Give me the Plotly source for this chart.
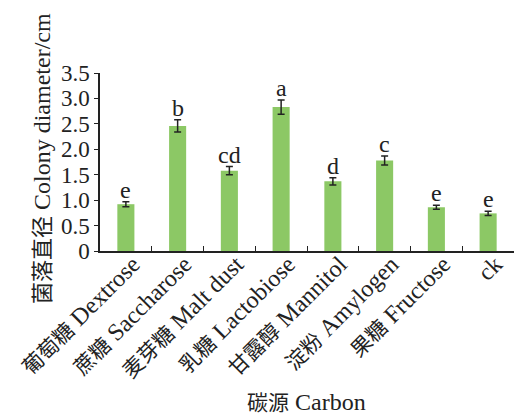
import plotly.graph_objects as go

cn_names = ["葡萄糖", "蔗糖", "麦芽糖", "乳糖", "甘露醇", "淀粉", "果糖", ""]
en_names = ["Dextrose", "Saccharose", "Malt dust", "Lactobiose", "Mannitol", "Amylogen", "Fructose", "ck"]
values = [0.92, 2.46, 1.58, 2.83, 1.37, 1.78, 0.86, 0.74]
errors = [0.05, 0.12, 0.08, 0.14, 0.07, 0.09, 0.04, 0.04]
letters = ["e", "b", "cd", "a", "d", "c", "e", "e"]
ytick_vals = [0, 0.5, 1.0, 1.5, 2.0, 2.5, 3.0, 3.5]
ytick_text = ["0", "0.5", "1.0", "1.5", "2.0", "2.5", "3.0", "3.5"]

FONT = "Liberation Serif, Times New Roman, Noto Sans CJK SC, serif"
AX = "#222222"
TXT = "#222222"


def label(cn, en):
    if cn:
        return f"<span style='font-size:21px'>{cn}</span> {en}"
    return en


categories = [label(c, e) for c, e in zip(cn_names, en_names)]

fig = go.Figure()
fig.add_trace(go.Bar(
    x=categories, y=values, width=0.33,
    marker=dict(color="#8cc865", line=dict(width=0)),
    error_y=dict(type="data", array=errors, visible=True, color=TXT, thickness=1.5, width=3.5),
))

for c, v, e, t in zip(categories, values, errors, letters):
    fig.add_annotation(x=c, y=v + e, text=t, showarrow=False, yanchor="bottom", yshift=-3,
                       font=dict(family=FONT, size=24, color=TXT))

fig.add_annotation(xref="paper", yref="paper", x=(42 - 100) / 414, y=(251 - 159) / 178,
                   xanchor="center", yanchor="middle",
                   text="<span style='font-size:22px'>菌落直径</span> Colony diameter/cm",
                   textangle=-90, showarrow=False,
                   font=dict(family=FONT, size=24, color=TXT))
fig.add_annotation(xref="paper", yref="paper", x=(306 - 100) / 414, y=(251 - 402) / 178,
                   xanchor="center", yanchor="middle",
                   text="<span style='font-size:21px'>碳源</span> Carbon", showarrow=False,
                   font=dict(family=FONT, size=24, color=TXT))

fig.update_layout(
    width=514, height=415,
    margin=dict(l=100, r=0, t=73, b=164),
    paper_bgcolor="white", plot_bgcolor="white",
    showlegend=False, bargap=0.67,
    font=dict(family=FONT, size=20, color=TXT),
    xaxis=dict(type="category", showline=True, linecolor=AX, linewidth=1.5,
               ticks="inside", tickson="boundaries", ticklen=5, tickcolor=AX, tickwidth=1.2,
               tickangle=-45, tickfont=dict(family=FONT, size=24, color=TXT),
               ticklabelstandoff=-12, ticklabelshift=7,
               showgrid=False, zeroline=False),
    yaxis=dict(range=[0, 3.5], showline=True, linecolor=AX, linewidth=1.5,
               tickvals=ytick_vals, ticktext=ytick_text,
               ticks="outside", ticklen=4, tickcolor=AX, tickwidth=1.2,
               tickfont=dict(family=FONT, size=23, color=TXT),
               showgrid=False, zeroline=False),
)

fig.write_html("out.html", config={"displayModeBar": False},
               post_script="document.body.style.margin='0';document.body.style.overflow='hidden';")
